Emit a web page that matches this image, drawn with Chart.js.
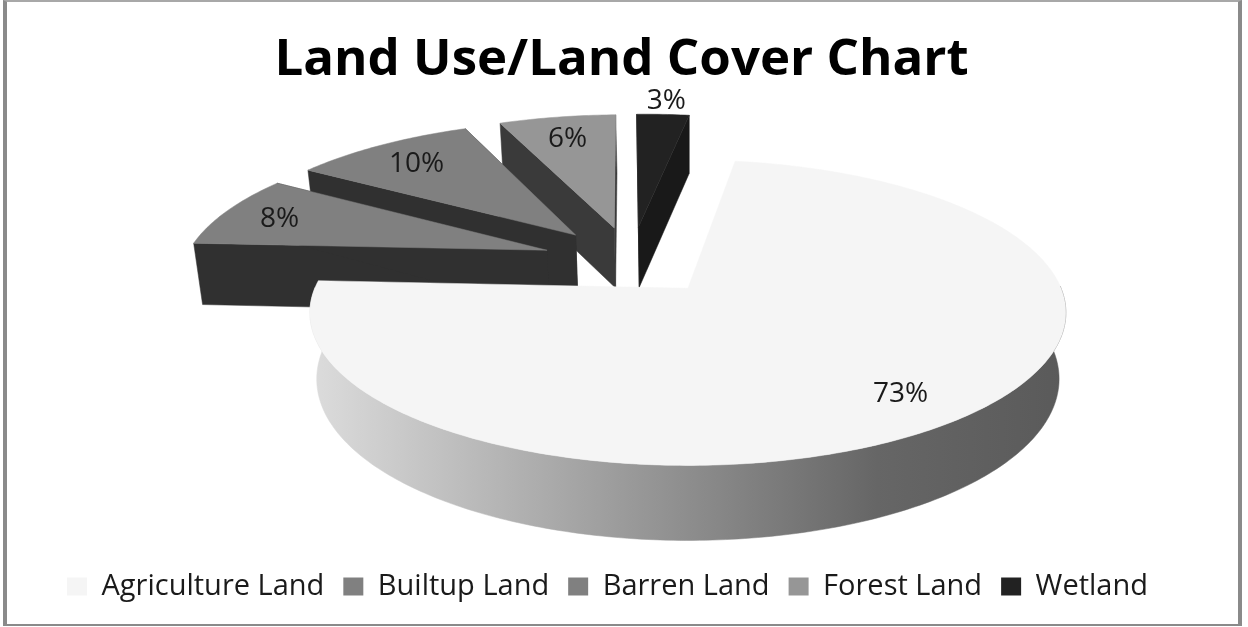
<!DOCTYPE html>
<html>
<head>
<meta charset="utf-8">
<title>Land Use/Land Cover Chart</title>
<script src="https://cdn.jsdelivr.net/npm/chart.js@4"></script>
<style>
    html, body { margin: 0; padding: 0; background: #fff; }
    #wrap { position: relative; width: 1248px; height: 627px; overflow: hidden; }
    #frame { position: absolute; left: 3px; top: 0; width: 1231px; height: 622px;
             border-left: 4px solid #8a8a8a; border-right: 4px solid #8a8a8a;
             border-top: 2px solid #a8a8a8; border-bottom: 2px solid #8a8a8a; }
    canvas { position: absolute; left: 0; top: 0; }
</style>
</head>
<body>
<div id="wrap">
    <div id="frame"></div>
    <canvas id="grafica" width="1248" height="627"></canvas>
</div>
<script>
const categories = ['Agriculture Land', 'Builtup Land', 'Barren Land', 'Forest Land', 'Wetland'];
// the labels show them rounded
const values = [73.49, 8.07, 9.53, 6.14, 2.77];
const topColors = ['#f5f5f5', '#808080', '#808080', '#969696', '#222222'];
const wallColors = ['#a0a0a0', '#303030', '#303030', '#3a3a3a', '#191919'];
const labelRadius = [0.81, 0.83, 0.8, 0.8, 1.16];

// perspective used for the tilted pie, radius = 1
const view = { cx: 689, cy: 288, rx: 373, ry: 148.7, k: 0.16, uc: -0.16, vc: -0.19 };

const project = (u, v, low) => {
    const U = u + view.uc;
    const V = v + view.vc;
    const s = 1 / (1 - view.k * V);
    let x = view.cx + view.rx * U * s;
    let y = view.cy + view.ry * V * s;
    if (low) {
        x = view.cx + (x - view.cx) * 0.982;
        y += Math.max(58, 64.6 + 10.4 * V);
    }
    return [x, y];
};

const fillPoly = (ctx, pts, color) => {
    ctx.beginPath();
    pts.forEach((p, i) => (i ? ctx.lineTo(p[0], p[1]) : ctx.moveTo(p[0], p[1])));
    ctx.closePath();
    ctx.fillStyle = color;
    ctx.strokeStyle = color;
    ctx.lineWidth = 0.5;
    ctx.fill();
    ctx.stroke();
};

const pie3d = {
    id: 'pie3d',
    beforeDatasetsDraw(chart) {
        const ctx = chart.ctx;
        const arcs = chart.getDatasetMeta(0).data;

        const wallGradient = ctx.createLinearGradient(312, 0, 1065, 0);
        wallGradient.addColorStop(0, '#dcdcdc');
        wallGradient.addColorStop(0.38, '#a0a0a0');
        wallGradient.addColorStop(0.75, '#666666');
        wallGradient.addColorStop(1, '#5a5a5a');

        const geometry = arcs.map(arc => {
            const mid = (arc.startAngle + arc.endAngle) / 2;
            const ou = Math.cos(mid) * arc.options.offset / arc.outerRadius;
            const ov = Math.sin(mid) * arc.options.offset / arc.outerRadius;
            return { arc, mid, ou, ov };
        });

        // back to front: Wetland first, Agriculture last
        for (let i = arcs.length - 1; i >= 0; i--) {
            const { arc, ou, ov } = geometry[i];
            const steps = Math.ceil((arc.endAngle - arc.startAngle) / 0.015);
            const rim = [];
            const front = [];
            const frontLow = [];
            for (let s = 0; s <= steps; s++) {
                const a = arc.startAngle + (arc.endAngle - arc.startAngle) * s / steps;
                rim.push(project(ou + Math.cos(a), ov + Math.sin(a), false));
                // only the part of the rim that faces the viewer gets a wall
                if (Math.sin(a) > -0.02) {
                    front.push(project(ou + Math.cos(a), ov + Math.sin(a), false));
                    frontLow.push(project(ou + Math.cos(a), ov + Math.sin(a), true));
                }
            }
            const apex = project(ou, ov, false);
            const apexLow = project(ou, ov, true);
            const a0 = arc.startAngle;
            const a1 = arc.endAngle;
            const low0 = project(ou + Math.cos(a0), ov + Math.sin(a0), true);
            const low1 = project(ou + Math.cos(a1), ov + Math.sin(a1), true);

            if (i > 0) {
                fillPoly(ctx, [apex, rim[0], low0, apexLow], wallColors[i]);
                fillPoly(ctx, [apex, rim[steps], low1, apexLow], wallColors[i]);
            }
            if (front.length > 1) {
                fillPoly(ctx, front.concat(frontLow.reverse()), i === 0 ? wallGradient : wallColors[i]);
            }
            fillPoly(ctx, [apex].concat(rim), topColors[i]);
        }

        ctx.save();
        ctx.font = '28px "Open Sans"';
        ctx.fillStyle = '#1a1a1a';
        ctx.textAlign = 'center';
        ctx.textBaseline = 'middle';
        geometry.forEach(({ mid, ou, ov }, i) => {
            const p = project(ou + Math.cos(mid) * labelRadius[i], ov + Math.sin(mid) * labelRadius[i], false);
            ctx.fillText(Math.round(values[i]) + '%', p[0], p[1] + 2);
        });
        ctx.restore();
        return false;
    }
};

document.addEventListener('DOMContentLoaded', () => {
    new Chart(document.getElementById('grafica').getContext('2d'), {
        type: 'pie',
        data: {
            labels: categories,
            datasets: [{
                data: values,
                backgroundColor: topColors,
                borderWidth: 0,
                // explosion is about a quarter of the radius for every slice
                offset: c => (c.chart.chartArea ? c.chart.chartArea.height * 0.1103 : 0)
            }]
        },
        options: {
            responsive: false,
            animation: false,
            rotation: 8.4,
            layout: { padding: { left: 48, right: 53, top: 0, bottom: 16 } },
            plugins: {
                tooltip: { enabled: false },
                title: {
                    display: true,
                    text: 'Land Use/Land Cover Chart',
                    color: '#000',
                    font: { family: '"Open Sans"', size: 51, weight: 'bold' },
                    padding: { top: 30, bottom: 8 }
                },
                legend: {
                    position: 'bottom',
                    align: 'start',
                    labels: {
                        color: '#1a1a1a',
                        font: { family: '"Open Sans"', size: 29 },
                        boxWidth: 20,
                        boxHeight: 18,
                        padding: 19
                    }
                }
            }
        },
        plugins: [pie3d]
    });
});
</script>
</body>
</html>
